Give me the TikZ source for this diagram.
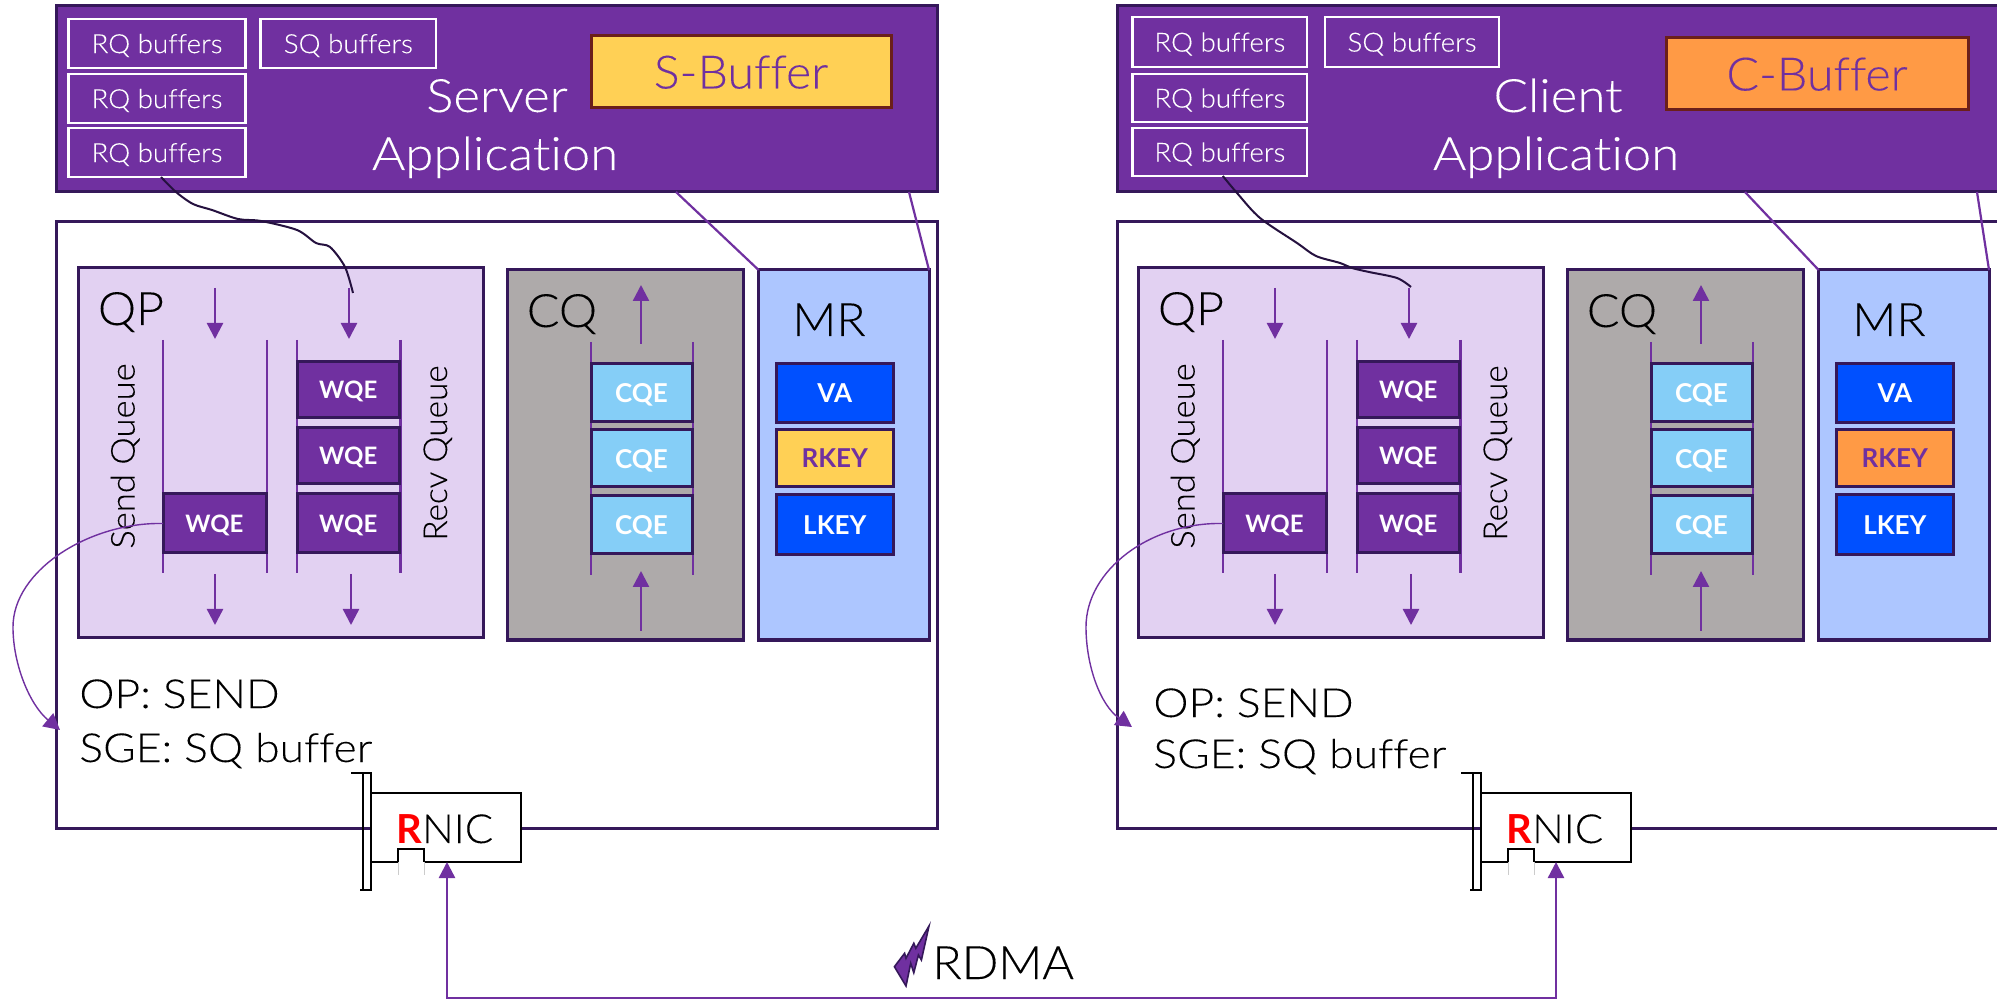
\documentclass[tikz,border=0pt]{standalone}
\usepackage{fontspec}
\setmainfont{Lato}[UprightFont=* Light,BoldFont=* Bold,UprightFeatures={FakeStretch=1.05,FakeBold=0.12},Ligatures=NoCommon]
\newfontfamily\widef{Lato}[UprightFont=* Light,UprightFeatures={FakeStretch=1.11,FakeBold=0.12},Ligatures=NoCommon]
\usetikzlibrary{arrows.meta}
\definecolor{appP}{HTML}{7030A0}
\definecolor{edgeD}{HTML}{35185A}
\definecolor{qpF}{HTML}{E2D1F2}
\definecolor{cqF}{HTML}{AEAAAA}
\definecolor{mrF}{HTML}{ADC6FF}
\definecolor{sbF}{HTML}{FFD055}
\definecolor{cbF}{HTML}{FF9A45}
\definecolor{cqeF}{HTML}{85CEF7}
\definecolor{vaF}{HTML}{0050FF}
\definecolor{bufE}{HTML}{6B1F1A}
\tikzset{
 panel/.style={draw=edgeD,line width=1.5pt,inner sep=0pt,outer sep=0pt},
 appbox/.style={panel,fill=appP},
 rqbox/.style={draw=white,line width=1.4pt,fill=appP,text=white,inner sep=0pt,outer sep=0pt,font=\fontsize{13.2}{15}\selectfont,text depth=0pt},
 bufbox/.style={draw=bufE,line width=1.5pt,inner sep=0pt,outer sep=0pt,text=appP,font=\fontsize{23}{26}\selectfont,text depth=0pt},
 itembox/.style={panel,text=white,font=\fontsize{13}{15}\selectfont\bfseries,text depth=0pt},
 wqebox/.style={panel,fill=appP,text=white,font=\fontsize{12}{14}\selectfont\bfseries,text depth=0pt},
 biglab/.style={anchor=base,inner sep=0pt,font=\fontsize{23}{26}\selectfont},
 widelab/.style={anchor=base,inner sep=0pt,font=\fontsize{23}{26}\selectfont\widef},
 oplab/.style={anchor=base west,inner sep=0pt,font=\fontsize{20}{24}\selectfont\widef},
 qlab/.style={anchor=base,rotate=90,inner sep=0pt,font=\fontsize{16.5}{20}\selectfont},
 rail/.style={draw=appP,line width=1.2pt},
 flow/.style={draw=appP,line width=1.2pt,-{Triangle[length=8pt,width=8pt]}},
 sendcurve/.style={draw=appP,line width=.7pt,-{Triangle[length=8pt,width=8.5pt]}},
 wave/.style={draw=edgeD!70!black,line width=1pt,line join=round},
 mapline/.style={draw=appP,line width=1.1pt},
 nicline/.style={draw=black,line width=1.4pt},
}
\newcommand\bx[7]{\node[#6,minimum width={((#4)-(#2))*0.5pt},minimum height={((#5)-(#3))*0.5pt}] (#1) at ({((#2)+(#4))/2},{((#3)+(#5))/2}) {#7};}
\newcommand\arr[4]{\coordinate (#1-a) at (#2,#3);\coordinate (#1-b) at (#2,#4);\draw[flow] (#1-a) -- (#1-b);}
\newcommand\rl[4]{\coordinate (#1-a) at (#2,#3);\coordinate (#1-b) at (#2,#4);\draw[rail] (#1-a) -- (#1-b);}
\newcommand\stackset[3]{%
\begin{scope}[xshift=#2]
\bx{#1qp}{78.5}{268}{483}{638}{panel,fill=qpF}{}
\bx{#1cq}{507}{270}{743.5}{640}{panel,fill=cqF}{}
\bx{#1mr}{758.6}{270}{929}{640}{panel,fill=mrF}{}
\node[biglab] (#1qpt) at (131,325) {QP};
\node[biglab] (#1cqt) at (562,327) {CQ};
\node[biglab] (#1mrt) at (829,336) {MR};
\rl{#1r1}{162.7}{340}{573}
\rl{#1r2}{267}{340}{573}
\rl{#1r3}{297}{340}{573}
\rl{#1r4}{400.6}{340}{573}
\rl{#1r5}{591}{342}{575}
\rl{#1r6}{693}{342}{575}
\bx{#1sw}{163}{494}{266}{553}{wqebox}{WQE}
\bx{#1rw1}{297}{362}{399.5}{418}{wqebox}{WQE}
\bx{#1rw2}{297}{428}{399.5}{484}{wqebox}{WQE}
\bx{#1rw3}{297}{494}{399.5}{553}{wqebox}{WQE}
\bx{#1c1}{591}{364}{692}{422}{itembox,fill=cqeF}{CQE}
\bx{#1c2}{591}{430}{692}{487}{itembox,fill=cqeF}{CQE}
\bx{#1c3}{591}{496}{692}{554}{itembox,fill=cqeF}{CQE}
\bx{#1va}{776.6}{364}{893}{423}{itembox,fill=vaF}{VA}
\bx{#1rk}{776.6}{430}{893}{487}{itembox,fill=#3,text=appP}{RKEY}
\bx{#1lk}{776.6}{495}{893}{555}{itembox,fill=vaF}{LKEY}
\arr{#1a1}{215}{288}{339}
\arr{#1a2}{349}{288}{339}
\arr{#1a3}{215}{574}{625}
\arr{#1a4}{351}{574}{625}
\arr{#1a5}{641}{344}{285}
\arr{#1a6}{641}{631}{571}
\node[qlab] (#1sq) at (134.6,456) {Send Queue};
\node[qlab,xscale=.96] (#1rq) at (447,453) {Recv Queue};
\end{scope}}
\newcommand\rnic[2]{%
\begin{scope}[xshift=#2]
\bx{#1}{371}{793}{521}{862}{nicline,fill=white,inner sep=0pt,outer sep=0pt}{}
\coordinate (#1-n1) at (398,862);\coordinate (#1-n2) at (398,849);\coordinate (#1-n3) at (424,849);\coordinate (#1-n4) at (424,862);
\draw[white,line width=2pt] (#1-n1) -- (#1-n4);
\draw[nicline] (#1-n1) -- (#1-n2) -- (#1-n3) -- (#1-n4);
\draw[gray!40,line width=.4pt] (398,862) -- (398,875) (424,862) -- (424,875);
\draw[nicline] (351,773) -- (371,773) -- (371,890) -- (360,890);
\draw[nicline] (363,773) -- (363,890);
\node[anchor=base west,inner sep=0pt,font=\fontsize{20}{24}\selectfont] (#1t) at (396,843) {\textcolor{red}{\bfseries R}NIC};
\end{scope}}
\begin{document}
\begin{tikzpicture}[x=0.5pt,y=-0.5pt]
\clip (0,0) rectangle (1997,999);
\fill[white] (0,0) rectangle (1997,999);
% outer host boxes
\bx{lhost}{56.5}{222}{937}{828}{panel,fill=white}{}
\bx{rhost}{1117}{222}{2010}{828}{panel,fill=white}{}
% application boxes
\bx{lapp}{56.5}{6}{937}{192}{appbox}{}
\bx{rapp}{1117}{6}{2010}{192}{appbox}{}
\bx{lrq1}{68.5}{19}{245.5}{68}{rqbox}{RQ buffers}
\bx{lrq2}{68.5}{74}{245.5}{123}{rqbox}{RQ buffers}
\bx{lrq3}{68.5}{128}{245.5}{177}{rqbox}{RQ buffers}
\bx{lsq}{260.6}{19}{436}{68}{rqbox}{SQ buffers}
\bx{lbuf}{591}{36}{891}{108}{bufbox,fill=sbF}{S-Buffer}
\node[widelab,text=white] (lt1) at (497,112) {Server};
\node[widelab,text=white] (lt2) at (495,170) {Application};
\bx{rrq1}{1132.6}{17}{1307}{67}{rqbox}{RQ buffers}
\bx{rrq2}{1132.6}{74}{1307}{122}{rqbox}{RQ buffers}
\bx{rrq3}{1132.6}{128}{1307}{176}{rqbox}{RQ buffers}
\bx{rsq}{1325}{17}{1499}{67}{rqbox}{SQ buffers}
\bx{rbuf}{1666}{38}{1968}{110}{bufbox,fill=cbF}{C-Buffer}
\node[widelab,text=white] (rt1) at (1558,112) {Client};
\node[widelab,text=white] (rt2) at (1556,170) {Application};
% inner stacks
\stackset{L}{0pt}{sbF}
\stackset{R}{530pt}{cbF}
% map lines
\coordinate (lm1) at (676,192);\coordinate (lm2) at (909,192);
\coordinate (rm1) at (1745,192);\coordinate (rm2) at (1977,192);
\draw[mapline] (lm1) -- (Lmr.north west);
\draw[mapline] (lm2) -- (Lmr.north east);
\draw[mapline] (rm1) -- (Rmr.north west);
\draw[mapline] (rm2) -- (Rmr.north east);
% hand-drawn links
\coordinate (lwe) at (353,293);
\coordinate (rwe) at (1411,287);
\draw[wave] plot[smooth,tension=.5] coordinates {([xshift=2pt]lrq3.south) (176,192) (193,204) (212,210) (238,219) (261,221) (297,230) (316,243) (330,247) (345,267) (lwe)};
\draw[wave] plot[smooth,tension=.5] coordinates {([xshift=1.5pt]rrq3.south) (1237,193) (1260,218) (1297,243) (1316,256) (1340,263) (1352,268) (1369,272) (1397,278) (rwe)};
% labels
\node[oplab] (lop) at (79,708) {OP: SEND};
\node[oplab] (lsge) at (79,762) {SGE: SQ buffer};
\node[oplab] (rop) at (1153,717) {OP: SEND};
\node[oplab] (rsge) at (1153,768) {SGE: SQ buffer};
% send curves
\coordinate (ltip) at (60,730);
\coordinate (rtip) at (1132,727);
\draw[sendcurve] (Lsw.west) .. controls (90,522) and (13,570) .. (13,627) .. controls (13,665) and (30,705) .. (ltip);
\draw[sendcurve] (Rsw.west) .. controls (1150,522) and (1086,570) .. (1086,627) .. controls (1086,665) and (1100,705) .. (rtip);
% NICs
\rnic{lnic}{0pt}
\rnic{rnic}{555pt}
% RDMA link
\coordinate (c1) at (447,998);
\coordinate (c2) at (1556,998);
\draw[draw=appP,line width=1.2pt,{Triangle[length=8pt,width=8pt]}-{Triangle[length=8pt,width=8pt]}] (lnic.south -| c1) -- (c1) -- (c2) -- (rnic.south -| c2);
\filldraw[fill=appP,draw=edgeD,line width=.8pt,line join=miter] (929,926) -- (921.4,960) -- (918.4,955) -- (913.8,972.7) -- (910.7,963.3) -- (906,986) -- (894.4,966.7) -- (904.6,953.3) -- (906,958.3) -- (913.8,943.3) -- (915.8,948.3) -- cycle;
\node[anchor=base west,inner sep=0pt,font=\fontsize{23}{26}\selectfont] (rdma) at (932,979) {RDMA};
\end{tikzpicture}
\end{document}
